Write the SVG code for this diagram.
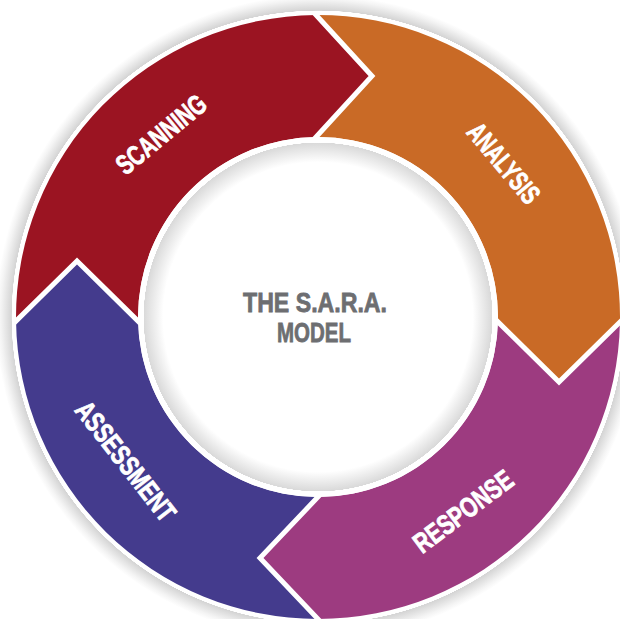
<svg xmlns="http://www.w3.org/2000/svg" width="620" height="619" viewBox="0 0 620 619">
  <defs>
    <radialGradient id="outerShadow" gradientUnits="userSpaceOnUse" cx="318" cy="317" r="322">
      <stop offset="0" stop-color="#ffffff"/>
      <stop offset="0.951" stop-color="#ffffff"/>
      <stop offset="0.952" stop-color="#d4d4d4"/>
      <stop offset="0.985" stop-color="#f4f4f4"/>
      <stop offset="1" stop-color="#ffffff"/>
    </radialGradient>
    <radialGradient id="innerShade" gradientUnits="userSpaceOnUse" cx="318" cy="317" r="180">
      <stop offset="0" stop-color="#ffffff"/>
      <stop offset="0.86" stop-color="#ffffff"/>
      <stop offset="0.968" stop-color="#d9d9d9"/>
      <stop offset="0.969" stop-color="#ffffff"/>
      <stop offset="1" stop-color="#ffffff"/>
    </radialGradient>
    <style>
      .label { font-family: "Liberation Sans", Arial, sans-serif; font-weight: bold; font-size: 28px; fill: #ffffff; stroke: #ffffff; stroke-width: 0.8; text-anchor: middle; }
      .title { font-family: "Liberation Sans", Arial, sans-serif; font-weight: bold; font-size: 28px; fill: #6d6e71; stroke: #6d6e71; stroke-width: 0.8; text-anchor: middle; }
      .sep { fill: none; stroke: #ffffff; stroke-width: 5; stroke-linejoin: miter; stroke-miterlimit: 10; }
    </style>
  </defs>

  <rect width="620" height="619" fill="#ffffff"/>
  <circle cx="318" cy="317" r="322" fill="url(#outerShadow)"/>

  <g id="scanning">
    <path fill="#9b1422" d="M 16.03,321 A 302 302 0 0 1 316,15.01 L 372,76 L 316,137.01 A 180 180 0 0 0 138.04,321 L 77,261 Z"/>
    <text class="label" transform="translate(161,134) rotate(-39.5)" x="0" y="10" textLength="108" lengthAdjust="spacingAndGlyphs">SCANNING</text>
  </g>

  <g id="analysis">
    <path fill="#c96a26" d="M 316,15.01 A 302 302 0 0 1 619.96,322 L 559,382 L 497.93,322 A 180 180 0 0 0 316,137.01 L 372,76 Z"/>
    <text class="label" transform="translate(504,163) rotate(50)" x="0" y="10" textLength="96" lengthAdjust="spacingAndGlyphs">ANALYSIS</text>
  </g>

  <g id="response">
    <path fill="#9d3b80" d="M 619.96,322 A 302 302 0 0 1 318,619 L 260,558 L 318,497 A 180 180 0 0 0 497.93,322 L 559,382 Z"/>
    <text class="label" transform="translate(463,511) rotate(-37)" x="0" y="10" textLength="117" lengthAdjust="spacingAndGlyphs">RESPONSE</text>
  </g>

  <g id="assessment">
    <path fill="#443b8d" d="M 318,619 A 302 302 0 0 1 16.03,321 L 77,261 L 138.04,321 A 180 180 0 0 0 318,497 L 260,558 Z"/>
    <text class="label" transform="translate(126,461) rotate(52)" x="0" y="10" textLength="144" lengthAdjust="spacingAndGlyphs">ASSESSMENT</text>
  </g>

  <g id="separators">
    <polyline class="sep" points="314,12.8 372,76 314,139.2"/>
    <polyline class="sep" points="622,320 559,382 495.9,319.9"/>
    <polyline class="sep" points="320,621.2 260,558 320,494.8"/>
    <polyline class="sep" points="13.9,323.1 77,261 140.1,323.1"/>
  </g>

  <g id="center">
    <circle cx="318" cy="317" r="180" fill="url(#innerShade)"/>
    <text class="title" x="315" y="312" textLength="144" lengthAdjust="spacingAndGlyphs">THE S.A.R.A.</text>
    <text class="title" x="314" y="342" textLength="74" lengthAdjust="spacingAndGlyphs">MODEL</text>
  </g>
</svg>
